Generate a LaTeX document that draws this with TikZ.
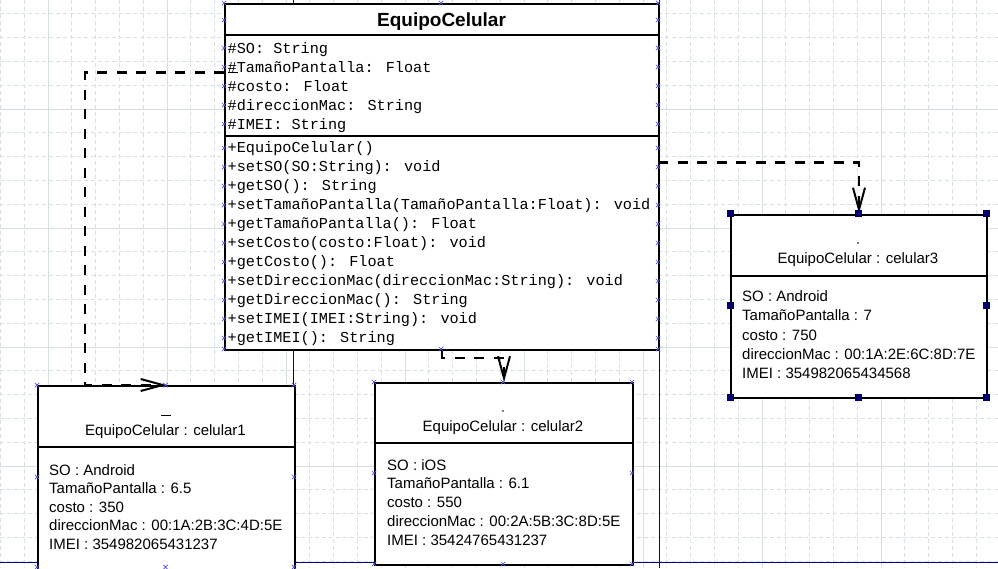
\documentclass[tikz,border=0pt]{standalone}
\usepackage{fontspec}
\setmainfont{Liberation Sans}
\newfontfamily\monof{Liberation Mono}
\usetikzlibrary{arrows.meta}
\definecolor{gridc}{RGB}{214,226,224}
\definecolor{pageblue}{RGB}{0,0,140}
\definecolor{markblue}{RGB}{80,80,230}
\definecolor{selnavy}{RGB}{0,0,110}
\tikzset{
  box/.style={draw=black, line width=2pt, fill=white, inner sep=0pt, anchor=north west},
  mono/.style={anchor=base west, inner sep=0pt, font=\monof\fontsize{15.2}{19}\selectfont},
  otxt/.style={anchor=base west, inner sep=0pt, font=\fontsize{15}{19}\selectfont},
  otitle/.style={anchor=base, inner sep=0pt, font=\fontsize{15}{19}\selectfont},
  dep/.style={draw=black, line width=2.5pt, dash pattern=on 10pt off 9.5pt,
    -{Straight Barb[length=22pt,width=12pt,line width=2pt]}},
  gridminor/.style={draw=gridc, line width=1pt, dash pattern=on 4pt off 3pt},
  gridmajor/.style={draw=gridc, line width=1pt},
  xm/.pic={\draw[markblue,line width=0.7pt] (-2.2,-2.2)--(2.2,2.2) (-2.2,2.2)--(2.2,-2.2);},
  sq/.pic={\fill[selnavy] (-3.5,-3.5) rectangle (3.5,3.5);}
}
\begin{document}
\begin{tikzpicture}[x=1pt,y=-1pt]
\useasboundingbox (0,0) rectangle (998,568);
\clip (0,0) rectangle (998,568);
\fill[white] (0,0) rectangle (998,568);
% grid
\foreach \i in {-2,...,40} \draw[gridminor] ({48+23.8*\i},0) -- ({48+23.8*\i},568);
\foreach \j in {-5,...,20} \draw[gridminor] (0,{109+23.8*\j}) -- (998,{109+23.8*\j});
\foreach \i in {-1,...,8} \draw[gridmajor] ({48+119*\i},0) -- ({48+119*\i},568);
\foreach \j in {-1,...,4} \draw[gridmajor] (0,{109+119*\j}) -- (998,{109+119*\j});
% page boundaries
\draw[pageblue, line width=1pt] (293,0) -- (293,568);
\draw[pageblue, line width=1pt] (659.5,0) -- (659.5,568);
\draw[pageblue, line width=1pt] (0,562) -- (998,562);

% class box
\node[box, minimum width=434pt, minimum height=346pt] (cls) at (224,3) {};
\draw[line width=2pt] (224,35) -- (658,35);
\draw[line width=2pt] (224,136) -- (658,136);
\node[anchor=base, inner sep=0pt, font=\bfseries\fontsize{19}{22}\selectfont] (clsname) at (441.5,26.5) {EquipoCelular};
\foreach \t [count=\k] in {{\#SO: String},{\#TamañoPantalla: Float},{\#costo: Float},{\#direccionMac: String},{\#IMEI: String}}
  \node[mono] (a\k) at (227.5,{34+19*\k}) {\t};
\foreach \t [count=\k] in {{+EquipoCelular()},{+setSO(SO:String): void},{+getSO(): String},{+setTamañoPantalla(TamañoPantalla:Float): void},{+getTamañoPantalla(): Float},{+setCosto(costo:Float): void},{+getCosto(): Float},{+setDireccionMac(direccionMac:String): void},{+getDireccionMac(): String},{+setIMEI(IMEI:String): void},{+getIMEI(): String}}
  \node[mono] (m\k) at (227.5,{133+19*\k}) {\t};
\draw[line width=1.5pt] (228,72.5) -- (238,72.5);

% object celular1
\node[box, minimum width=257pt, minimum height=184pt] (o1) at (37,385) {};
\draw[line width=2pt] (37,447) -- (294,447);
\draw[line width=1pt] (161,415) -- (171,415);
\node[otitle] (o1t) at (165.5,435) {EquipoCelular : celular1};
\node[otxt] (o1a) at (49,475) {SO : Android};
\node[otxt] (o1b) at (49,493.5) {TamañoPantalla : 6.5};
\node[otxt] (o1c) at (49,512) {costo : 350};
\node[otxt] (o1d) at (49,530.5) {direccionMac : 00:1A:2B:3C:4D:5E};
\node[otxt] (o1e) at (49,549) {IMEI : 354982065431237};

% object celular2
\node[box, minimum width=258pt, minimum height=182pt] (o2) at (374,382) {};
\draw[line width=2pt] (374,443) -- (632,443);
\fill (503,411) circle (0.8pt);
\node[otitle] (o2t) at (503,431.5) {EquipoCelular : celular2};
\node[otxt] (o2a) at (387,470) {SO : iOS};
\node[otxt] (o2b) at (387,488.5) {TamañoPantalla : 6.1};
\node[otxt] (o2c) at (387,507) {costo : 550};
\node[otxt] (o2d) at (387,526) {direccionMac : 00:2A:5B:3C:8D:5E};
\node[otxt] (o2e) at (387,545) {IMEI : 35424765431237};

% object celular3
\node[box, minimum width=256pt, minimum height=183.5pt] (o3) at (730,213.5) {};
\draw[line width=2pt] (730,275.5) -- (986,275.5);
\fill (858,243) circle (0.8pt);
\node[otitle] (o3t) at (858,263) {EquipoCelular : celular3};
\node[otxt] (o3a) at (742,301.5) {SO : Android};
\node[otxt] (o3b) at (742,320.5) {TamañoPantalla : 7};
\node[otxt] (o3c) at (742,340) {costo : 750};
\node[otxt] (o3d) at (742,359) {direccionMac : 00:1A:2E:6C:8D:7E};
\node[otxt] (o3e) at (742,378) {IMEI : 354982065434568};

% dependencies
\coordinate (cA) at (224,72.5);
\coordinate (bA) at (85,72.5);
\draw[dep] (cA) -- (bA) -- (bA |- o1.north) -- (o1.north);
\draw[dep] (cls.south) -- ++(0,7) -| (o2.north);
\coordinate (cC) at (658,162.5);
\draw[dep] (cC) -| (o3.north);

% selection markers
\foreach \y in {3,20,48,67,86,105,124,148,167,186,205,224,243,262,281,300,319,338,349} {
  \pic at (224,\y) {xm}; \pic at (658,\y) {xm}; }
\pic at (441,3) {xm}; \pic at (441,349) {xm};
\foreach \p in {(37,385),(165.5,385),(294,385),(37,477),(294,477),(37,567),(165.5,567),(294,567)} \pic at \p {xm};
\foreach \p in {(374,382),(503,382),(632,382),(374,473),(632,473),(374,564),(503,564),(632,564)} \pic at \p {xm};
\foreach \p in {(730,213.5),(858,213.5),(986,213.5),(730,305),(986,305),(730,397),(858,397),(986,397)} \pic at \p {sq};
\end{tikzpicture}
\end{document}
